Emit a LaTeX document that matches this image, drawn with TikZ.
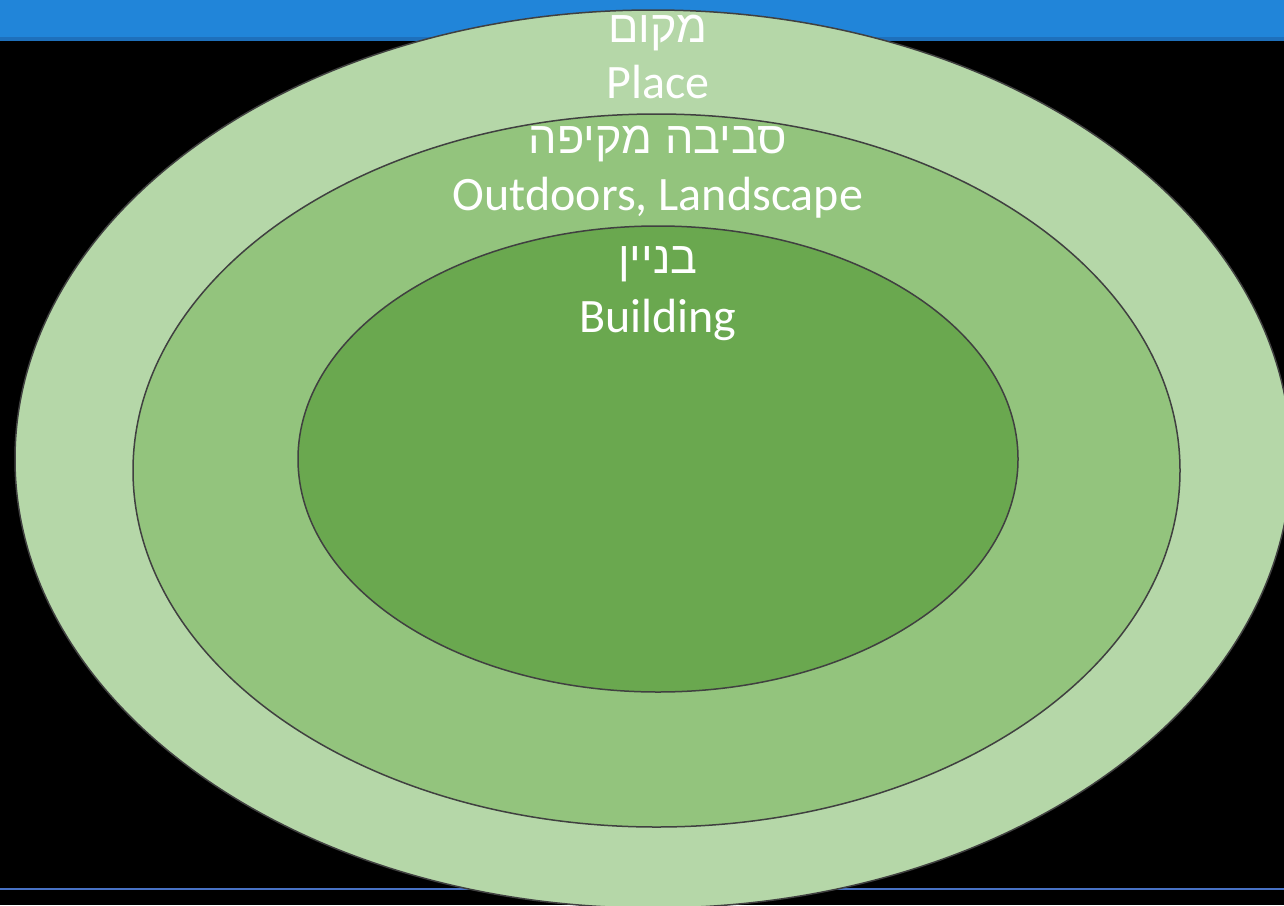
\documentclass[tikz,border=0pt]{standalone}
\usepackage{fontspec}
\setmainfont{Carlito}
\newfontfamily\hebfont[Script=Hebrew]{Liberation Sans}
\TeXXeTstate=1
\definecolor{bandblue}{RGB}{33,133,217}
\definecolor{banddark}{RGB}{30,112,188}
\definecolor{lineblue}{RGB}{72,114,196}
\definecolor{outerg}{RGB}{181,215,168}
\definecolor{middleg}{RGB}{147,196,125}
\definecolor{innerg}{RGB}{106,168,79}
\definecolor{ringline}{RGB}{64,64,64}
\begin{document}
\begin{tikzpicture}[x=1pt,y=-1pt,
  ring/.style={draw=ringline, line width=1.5pt},
  lbl/.style={text=white, font=\fontsize{48}{58}\selectfont, inner sep=0pt, anchor=base},
  heb/.style={text=white, font=\hebfont\fontsize{45}{56}\selectfont, inner sep=0pt, anchor=base}]
\useasboundingbox (0,0) rectangle (1284,905);
\clip (0,0) rectangle (1284,905);
\fill[black] (0,0) rectangle (1284,905);
\fill[bandblue] (0,0) rectangle (1284,37);
\fill[banddark] (0,37) rectangle (1284,41);
\fill[lineblue] (0,887.5) rectangle (1284,890);
\path[ring, fill=outerg] (653,459) ellipse [x radius=638, y radius=449];
\path[ring, fill=middleg] (656.5,470.5) ellipse [x radius=523.5, y radius=356.5];
\path[ring, fill=innerg] (658,459) ellipse [x radius=360, y radius=233];
\node[heb] (hplace) at (658,42) {\beginR מקום\endR};
\node[lbl] (place) at (658,98) {Place};
\node[heb] (hout) at (658,153) {\beginR סביבה מקיפה\endR};
\node[lbl] (out) at (658,210) {Outdoors, Landscape};
\node[heb] (hbuild) at (658,273) {\beginR בניין\endR};
\node[lbl] (build) at (658,332) {Building};
\end{tikzpicture}
\end{document}
